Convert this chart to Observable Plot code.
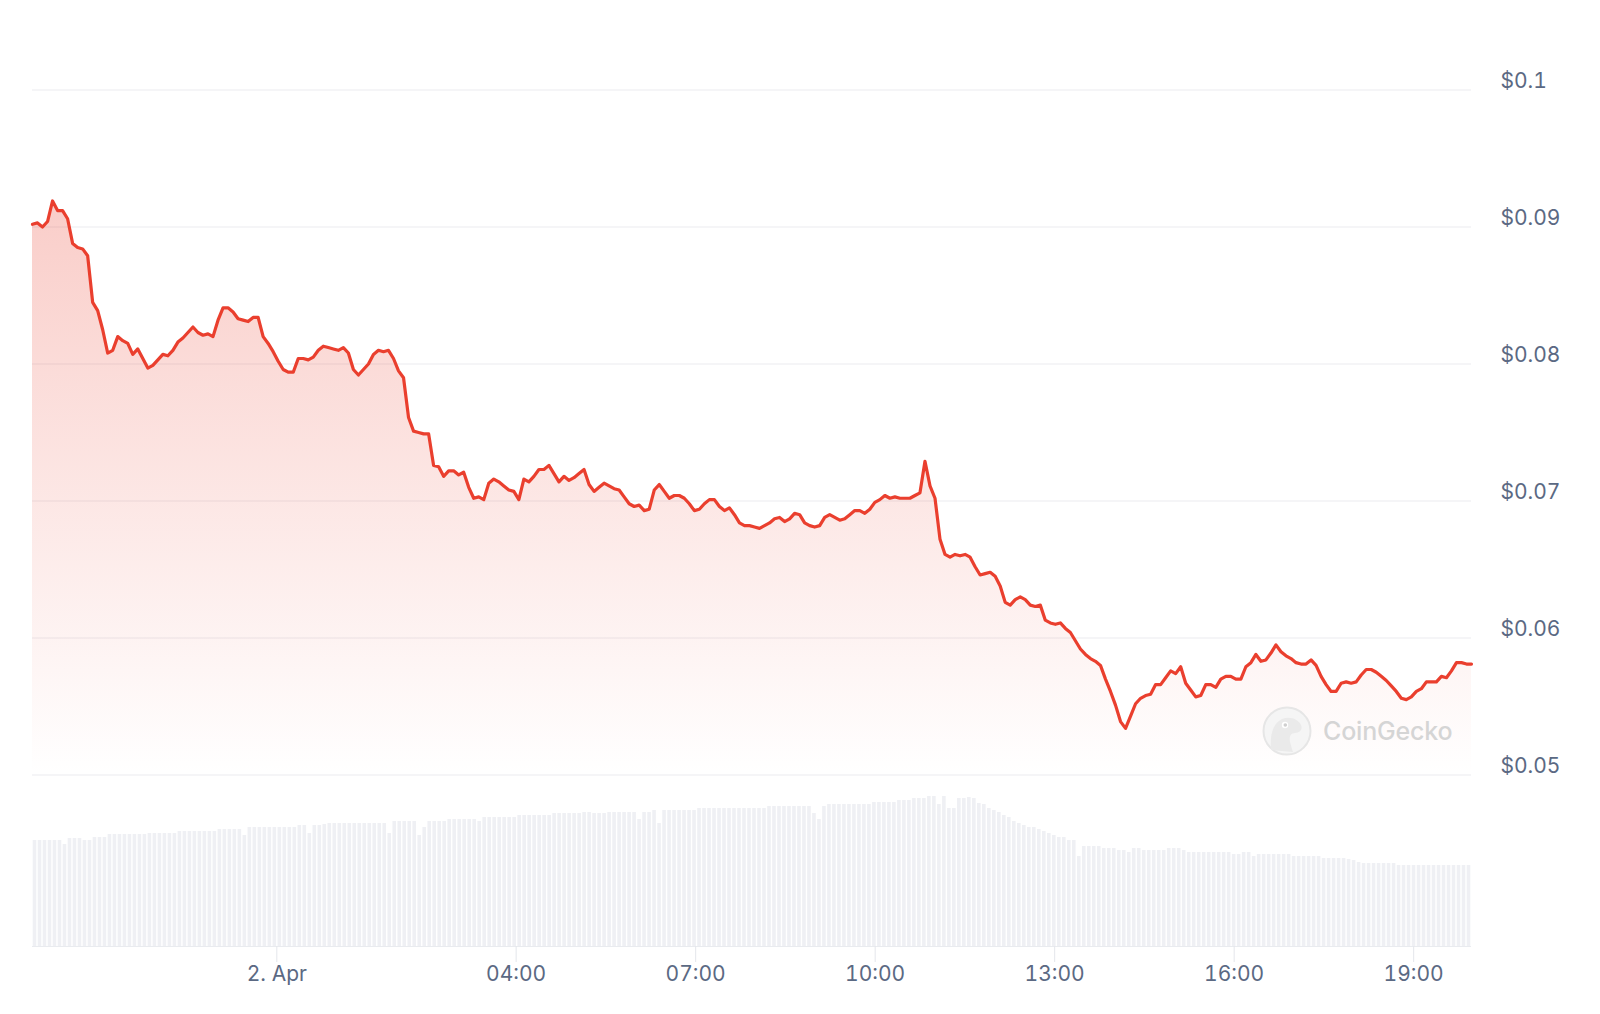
<!DOCTYPE html>
<html>
<head>
<meta charset="utf-8">
<script src="https://cdn.jsdelivr.net/npm/d3@7"></script>
<script src="https://cdn.jsdelivr.net/npm/@observablehq/plot@0.6"></script>
<style>
  html, body { margin: 0; padding: 0; background: #ffffff; overflow: hidden; }
  #chart { position: relative; width: 1600px; height: 1014px; }
  #chart svg { display: block; }
  #wm { position: absolute; left: 1262px; top: 706px; display: flex; align-items: center; gap: 11px; pointer-events: none; }
  #wm span { font-family: Inter, "Noto Sans", sans-serif; font-weight: 500; font-size: 25px; color: #d5d5d5; letter-spacing: -0.2px; }
</style>
</head>
<body>
<div id="chart"></div>
<script>
// ---- Data ----
// 5-minute price points (USD), 1 Apr 19:55 -> 2 Apr 19:58 (UTC)
const seriesStart = "2024-04-01T19:55:00Z";
const seriesEnd = "2024-04-02T19:58:00Z";

const priceValues = [
  0.0902,0.0903,0.0900,0.0904,0.0919,0.0912,0.0912,0.0906,0.0888,0.0885,
  0.0884,0.0879,0.0845,0.0839,0.0825,0.0808,0.0810,0.0820,0.0817,0.0815,
  0.0807,0.0811,0.0804,0.0797,0.0799,0.0803,0.0807,0.0806,0.0810,0.0816,
  0.0819,0.0823,0.0827,0.0823,0.0821,0.0822,0.0820,0.0832,0.0841,0.0841,
  0.0838,0.0833,0.0832,0.0831,0.0834,0.0834,0.0820,0.0815,0.0809,0.0802,
  0.0796,0.0794,0.0794,0.0804,0.0804,0.0803,0.0805,0.0810,0.0813,0.0812,
  0.0811,0.0810,0.0812,0.0808,0.0796,0.0792,0.0796,0.0800,0.0807,0.0810,
  0.0809,0.0810,0.0804,0.0795,0.0790,0.0761,0.0751,0.0750,0.0749,0.0749,
  0.0726,0.0725,0.0718,0.0722,0.0722,0.0719,0.0721,0.0710,0.0702,0.0703,
  0.0701,0.0713,0.0716,0.0714,0.0711,0.0708,0.0707,0.0701,0.0716,0.0714,
  0.0718,0.0723,0.0723,0.0726,0.0720,0.0714,0.0718,0.0715,0.0717,0.0720,
  0.0723,0.0712,0.0707,0.0710,0.0713,0.0711,0.0709,0.0708,0.0703,0.0698,
  0.0696,0.0697,0.0693,0.0694,0.0708,0.0712,0.0707,0.0702,0.0704,0.0704,
  0.0702,0.0698,0.0693,0.0694,0.0698,0.0701,0.0701,0.0696,0.0693,0.0695,
  0.0690,0.0684,0.0682,0.0682,0.0681,0.0680,0.0682,0.0684,0.0687,0.0688,
  0.0685,0.0687,0.0691,0.0690,0.0684,0.0682,0.0681,0.0682,0.0688,0.0690,
  0.0688,0.0686,0.0687,0.0690,0.0693,0.0693,0.0691,0.0694,0.0699,0.0701,
  0.0704,0.0702,0.0703,0.0702,0.0702,0.0702,0.0704,0.0706,0.0729,0.0711,
  0.0702,0.0672,0.0661,0.0659,0.0661,0.0660,0.0661,0.0659,0.0652,0.0646,
  0.0647,0.0648,0.0645,0.0638,0.0626,0.0624,0.0628,0.0630,0.0628,0.0624,
  0.0623,0.0624,0.0613,0.0611,0.0610,0.0611,0.0607,0.0604,0.0598,0.0592,
  0.0588,0.0585,0.0583,0.0580,0.0570,0.0561,0.0551,0.0539,0.0534,0.0543,
  0.0552,0.0556,0.0558,0.0559,0.0566,0.0566,0.0571,0.0576,0.0574,0.0579,
  0.0567,0.0562,0.0557,0.0558,0.0566,0.0566,0.0564,0.0570,0.0572,0.0572,
  0.0570,0.0570,0.0579,0.0582,0.0588,0.0583,0.0584,0.0589,0.0595,0.0590,
  0.0587,0.0585,0.0582,0.0581,0.0581,0.0584,0.0580,0.0572,0.0566,0.0561,
  0.0561,0.0567,0.0568,0.0567,0.0568,0.0573,0.0577,0.0577,0.0575,0.0572,
  0.0569,0.0565,0.0561,0.0556,0.0555,0.0557,0.0561,0.0563,0.0568,0.0568,
  0.0568,0.0572,0.0571,0.0576,0.0582,0.0582,0.0581,0.0581
];

// volume bars (relative units, same 5-minute steps)
const volumeValues = [
  1.06,1.06,1.06,1.06,1.06,1.06,1.02,1.08,1.08,1.08,
  1.06,1.06,1.09,1.09,1.09,1.12,1.12,1.12,1.12,1.12,
  1.12,1.12,1.12,1.13,1.13,1.13,1.13,1.13,1.13,1.15,
  1.15,1.15,1.15,1.15,1.15,1.15,1.15,1.17,1.17,1.17,
  1.17,1.17,1.11,1.19,1.19,1.19,1.19,1.19,1.19,1.19,
  1.19,1.19,1.19,1.21,1.21,1.13,1.21,1.21,1.22,1.23,
  1.23,1.23,1.23,1.23,1.23,1.23,1.23,1.23,1.23,1.23,
  1.23,1.13,1.25,1.25,1.25,1.25,1.25,1.11,1.19,1.25,
  1.25,1.25,1.25,1.27,1.27,1.27,1.27,1.27,1.27,1.25,
  1.29,1.29,1.29,1.29,1.29,1.29,1.29,1.31,1.31,1.31,
  1.31,1.31,1.31,1.31,1.33,1.33,1.33,1.33,1.33,1.33,
  1.34,1.34,1.33,1.33,1.33,1.34,1.34,1.34,1.34,1.34,
  1.34,1.27,1.34,1.34,1.36,1.23,1.36,1.36,1.36,1.36,
  1.36,1.36,1.36,1.38,1.38,1.38,1.38,1.38,1.38,1.38,
  1.38,1.38,1.38,1.38,1.38,1.38,1.38,1.40,1.40,1.40,
  1.40,1.40,1.40,1.40,1.40,1.40,1.33,1.27,1.40,1.42,
  1.42,1.42,1.42,1.42,1.42,1.42,1.42,1.42,1.44,1.44,
  1.44,1.44,1.44,1.46,1.46,1.46,1.48,1.48,1.48,1.50,
  1.50,1.42,1.50,1.38,1.38,1.48,1.48,1.49,1.48,1.43,
  1.42,1.38,1.36,1.34,1.31,1.29,1.25,1.23,1.21,1.19,
  1.19,1.17,1.15,1.13,1.11,1.09,1.09,1.06,1.06,0.90,
  1.00,1.00,1.00,1.00,0.98,0.98,0.98,0.96,0.96,0.94,
  0.98,0.98,0.96,0.96,0.96,0.96,0.96,0.98,0.98,0.98,
  0.96,0.94,0.94,0.94,0.94,0.94,0.94,0.94,0.94,0.94,
  0.92,0.92,0.94,0.94,0.90,0.92,0.92,0.92,0.92,0.92,
  0.92,0.92,0.90,0.90,0.90,0.90,0.90,0.90,0.88,0.88,
  0.88,0.88,0.88,0.87,0.86,0.84,0.83,0.83,0.83,0.83,
  0.83,0.83,0.83,0.81,0.81,0.81,0.81,0.81,0.81,0.81,
  0.81,0.81,0.81,0.81,0.81,0.81,0.81,0.81
];

const yTicks = [0.05, 0.06, 0.07, 0.08, 0.09, 0.1];
const xTickLabels = [
  "2024-04-02T00:00:00Z", "2024-04-02T04:00:00Z", "2024-04-02T07:00:00Z",
  "2024-04-02T10:00:00Z", "2024-04-02T13:00:00Z", "2024-04-02T16:00:00Z",
  "2024-04-02T19:00:00Z"
];

// ---- Build tables ----
const t0 = new Date(seriesStart), t1 = new Date(seriesEnd);
const span = t1 - t0;
const priceData = priceValues.map((p, i) => ({
  t: new Date(+t0 + i * span / (priceValues.length - 1)), p
}));
const nv = volumeValues.length;
const volData = volumeValues.map((v, i) => ({
  a: new Date(+t0 + i * span / nv), b: new Date(+t0 + (i + 1) * span / nv), v
}));
const xTicks = xTickLabels.map(d => new Date(d));
const fmtX = d => d.getUTCHours() === 0 && d.getUTCMinutes() === 0
  ? d3.utcFormat("%-d. %b")(d) : d3.utcFormat("%H:%M")(d);
const fmtY = d => "$" + (+d.toFixed(2));

const lineColor = "#ea3f2e";
const textColor = "#5b6983";
const fontFamily = "Inter, 'Noto Sans', sans-serif";

const defs = () => {
  const g = d3.create("svg:defs");
  const lg = g.append("linearGradient").attr("id", "priceFill")
    .attr("x1", 0).attr("y1", 0).attr("x2", 0).attr("y2", 1);
  lg.append("stop").attr("offset", "0%").attr("stop-color", lineColor).attr("stop-opacity", 0.26);
  lg.append("stop").attr("offset", "100%").attr("stop-color", lineColor).attr("stop-opacity", 0.0);
  return g.node();
};

const pricePlot = Plot.plot({
  width: 1600, height: 790,
  marginTop: 89.5, marginBottom: 15.5, marginLeft: 32, marginRight: 129,
  style: { fontFamily, fontSize: "21px", background: "transparent", overflow: "visible" },
  x: { type: "utc", domain: [t0, t1], axis: null },
  y: { domain: [0.05, 0.1] },
  marks: [
    defs,
    Plot.ruleY(yTicks, { stroke: "#ebecf0", strokeWidth: 1.2 }),
    Plot.areaY(priceData, { x: "t", y1: 0.05, y2: "p", fill: "url(#priceFill)" }),
    Plot.lineY(priceData, { x: "t", y: "p", stroke: lineColor, strokeWidth: 3.2, strokeLinejoin: "round" }),
    Plot.axisY(yTicks, { anchor: "right", tickSize: 0, tickPadding: 29, dy: -9, tickFormat: fmtY,
      fill: textColor, fontSize: 21, label: null })
  ]
});

const volPlot = Plot.plot({
  width: 1600, height: 224,
  marginTop: 0, marginBottom: 68, marginLeft: 32, marginRight: 129,
  style: { fontFamily, fontSize: "21px", background: "transparent", overflow: "visible" },
  x: { type: "utc", domain: [t0, t1] },
  y: { domain: [0, 1.56], axis: null },
  marks: [
    Plot.rectY(volData, { x1: "a", x2: "b", y: "v", fill: "#eff0f4", insetLeft: 0.7, insetRight: 0.7 }),
    Plot.ruleY([0], { stroke: "#e9ebef", strokeWidth: 1.2 }),
    Plot.axisX(xTicks, { tickSize: 16, stroke: "#e4e6eb", fill: "none", label: null }),
    Plot.axisX(xTicks, { tickSize: 0, tickPadding: 20, tickFormat: fmtX, fill: textColor, fontSize: 21, label: null })
  ]
});

const chart = document.getElementById("chart");
chart.appendChild(pricePlot);
chart.appendChild(volPlot);

// CoinGecko watermark
const wm = document.createElement("div");
wm.id = "wm";
wm.innerHTML = `<svg width="50" height="50" viewBox="0 0 50 50">
  <circle cx="25" cy="25" r="23.5" fill="#f5f5f5" stroke="#e6e6e6" stroke-width="2"/>
  <path d="M9 44 C8 30 10 18 20 13 C28 10 36 13 39 19 C41 23 38 27 33 27 C29 27 27 30 28 36 C29 40 30 43 31 46 Z" fill="#eaeaea"/>
  <circle cx="23" cy="19" r="3.2" fill="#ffffff"/>
  <circle cx="23.3" cy="19" r="1.8" fill="#cfcfcf"/>
</svg><span>CoinGecko</span>`;
chart.appendChild(wm);
</script>
</body>
</html>
